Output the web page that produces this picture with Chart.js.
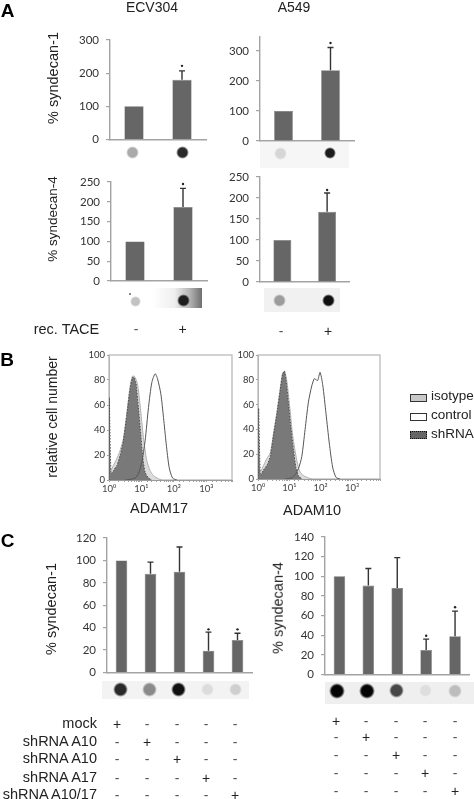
<!DOCTYPE html>
<html>
<head>
<meta charset="utf-8">
<title>Syndecan shedding</title>
<script src="https://cdn.jsdelivr.net/npm/chart.js@4/dist/chart.umd.min.js"></script>
<style>
  html, body { margin: 0; padding: 0; background: #fff; }
  #fig { position: relative; width: 474px; height: 799px; overflow: hidden; filter: blur(0.35px); }
  #fig canvas { position: absolute; }
  .t { position: absolute; white-space: nowrap; font-family: "Liberation Sans", sans-serif; color: #222; line-height: 1; transform: translate(-50%, -50%); }
  .b { position: absolute; }
</style>
</head>
<body>
<div id="fig"></div>
<script>
// panel A
const taceLabels = ['-', '+']
const ecvSyn1 = [100, 180]
const ecvSyn1Err = [null, 207]
const ecvSyn1Star = [null, 222]
const a549Syn1 = [100, 236]
const a549Syn1Err = [null, 312]
const a549Syn1Star = [null, 327]
const ecvSyn4 = [100, 187]
const ecvSyn4Err = [null, 234]
const ecvSyn4Star = [null, 245]
const a549Syn4 = [100, 167]
const a549Syn4Err = [null, 212]
const a549Syn4Star = [null, 219]

// panel B, histogram outlines (fluorescence, % of max)
const decadeLabels = ['10⁰', '10¹', '10²', '10³']
const a17ShX = [1, 1.02, 1.15, 1.36, 1.73, 2.19, 2.77, 3.52, 4.46, 5.27, 5.93, 6.84, 8.07, 9.53, 11, 13, 16.5, 20.9]
const a17ShY = [0, 66, 5, 7.5, 11.5, 19.5, 31.5, 51.6, 73, 82, 82, 77, 58, 37, 18, 6, 1.6, 0]
const a17IsoX = [1.15, 1.36, 1.73, 2.19, 2.77, 3.52, 4.46, 5.27, 6.08, 7.52, 9.09, 11.5, 14.6, 18.5, 23.5, 33.6, 42.6]
const a17IsoY = [7.5, 11.5, 17, 23.5, 33, 53, 75, 83, 83, 77, 60, 34, 15.5, 7.5, 3.5, 1, 0]
const a17CtlX = [3.1, 4.46, 6.4, 8.07, 10.2, 13, 16.5, 20.9, 26.5, 31.3, 39.6, 47.9, 58, 71.7, 91, 124]
const a17CtlY = [0, 0.5, 1.6, 5, 14, 31.5, 58, 78, 85, 81, 69, 50, 29, 10, 1.6, 0]
const a10ShX = [1, 1.05, 1.19, 1.51, 1.93, 2.46, 3.14, 4.01, 5.12, 6.07, 7.02, 7.93, 9.4, 11.2, 13.6, 16.1, 19.5, 24.9]
const a10ShY = [0, 57, 3, 7.5, 11, 18, 36, 52.6, 72, 84.5, 87, 79, 61, 41.5, 23.5, 9.7, 2.8, 0]
const a10IsoX = [1.19, 1.51, 1.93, 2.46, 3.14, 4.01, 5.12, 6.07, 7.02, 8.33, 10.1, 12.9, 17.3, 22.1, 31.8, 51.8]
const a10IsoY = [5.5, 11, 16.6, 21, 37, 54, 73, 85, 87, 79, 60, 34.6, 15, 5.5, 2, 0]
const a10CtlX = [7.37, 12, 15.3, 19.5, 24.9, 31.8, 40.6, 51.8, 62.9, 71.1, 80.4, 95.2, 116, 148, 188, 240, 307, 411]
const a10CtlY = [0, 1, 3.6, 8.3, 18, 40, 62, 75, 81, 80, 79.5, 86, 76, 52.6, 29, 9.7, 1.4, 0]

// panel C
const shLabels = ['mock', 'shRNA A10', 'shRNA A10', 'shRNA A17', 'shRNA A10/17']
const shMarks = ['+----', '-+---', '--+--', '---+-', '----+']
const cSyn1 = [100, 88, 90, 19.5, 29]
const cSyn1Err = [null, 98.5, 112, 36, 35]
const cSyn1Star = [null, null, null, 38.5, 38.5]
const cSyn4 = [100, 90.5, 88, 25, 39]
const cSyn4Err = [null, 108, 119, 36, 64.5]
const cSyn4Star = [null, null, null, 39.5, 68.5]

const fig = document.getElementById('fig')
const BAR = '#666666'
const AXIS = '#a3a3a3'
const TICKFONT = { family: 'Lato', size: 11.5 }

const errorBars = {
  id: 'errorBars',
  afterDatasetsDraw(chart) {
    const ds = chart.data.datasets[0]
    if (!ds.errorTop) return
    const ctx = chart.ctx
    const meta = chart.getDatasetMeta(0)
    ctx.save()
    ctx.strokeStyle = '#333'
    ctx.lineWidth = 1.4
    ds.errorTop.forEach((top, i) => {
      if (top == null) return
      const x = meta.data[i].x
      const y0 = chart.scales.y.getPixelForValue(ds.data[i])
      const y1 = chart.scales.y.getPixelForValue(top)
      ctx.beginPath()
      ctx.moveTo(x, y0)
      ctx.lineTo(x, y1)
      ctx.moveTo(x - 3, y1)
      ctx.lineTo(x + 3, y1)
      ctx.stroke()
    })
    ctx.restore()
  }
}

const plotBox = {
  id: 'plotBox',
  beforeDatasetsDraw(chart) {
    const a = chart.chartArea
    chart.ctx.save()
    chart.ctx.strokeStyle = '#b5b5b5'
    chart.ctx.lineWidth = 1.2
    chart.ctx.strokeRect(a.left, a.top, a.right - a.left, a.bottom - a.top)
    chart.ctx.restore()
  }
}

// canvas sizes have to be whole pixels, so the spare fraction goes to the right/bottom padding
function makeCanvas(p, m) {
  const c = document.createElement('canvas')
  c.width = Math.ceil(p.w + m.l + m.r)
  c.height = Math.ceil(p.h + m.t + m.b)
  c.style.left = (p.x - m.l) + 'px'
  c.style.top = (p.y - m.t) + 'px'
  m.padR = c.width - m.l - p.w
  m.padB = c.height - m.t - p.h
  fig.appendChild(c)
  return c
}

function barPanel(p, cats, values, errs, stars, yMax, yStep) {
  const m = { l: 45, t: 18, r: 6, b: 18 }
  const canvas = makeCanvas(p, m)
  new Chart(canvas, {
    type: 'bar',
    plugins: [errorBars],
    data: {
      labels: cats,
      datasets: [
        { data: values, errorTop: errs, backgroundColor: BAR, borderColor: '#757575', borderWidth: 0.6, categoryPercentage: 1, barPercentage: 0.4, order: 2 },
        { type: 'line', data: stars, showLine: false, pointRadius: 1.2, pointBackgroundColor: '#222', pointBorderWidth: 0, order: 1 }
      ]
    },
    options: {
      responsive: false,
      animation: false,
      layout: { padding: { left: 0, top: m.t, right: m.padR, bottom: m.padB } },
      plugins: { legend: { display: false }, tooltip: { enabled: false } },
      scales: {
        x: {
          ticks: { display: false },
          grid: { display: false },
          border: { color: AXIS, width: 1.4 },
          afterFit: s => { s.height = 0 }
        },
        y: {
          min: 0,
          max: yMax,
          ticks: { stepSize: yStep, includeBounds: false, font: TICKFONT, color: '#333', padding: 7 },
          grid: { drawOnChartArea: false, color: AXIS, tickLength: 4, lineWidth: 1.2 },
          border: { color: AXIS, width: 1.4 },
          afterFit: s => { s.width = m.l }
        }
      }
    }
  })
}

function toPoints(xs, ys) {
  return xs.map((x, i) => ({ x: x, y: ys[i] }))
}

function histPanel(p, xMax, sh, iso, ctl) {
  const m = { l: 30, t: 16, r: 6, b: 20 }
  const canvas = makeCanvas(p, m)
  new Chart(canvas, {
    type: 'scatter',
    plugins: [plotBox],
    data: {
      datasets: [
        { data: ctl, showLine: true, tension: 0.25, fill: false, borderColor: '#555', borderWidth: 1, pointRadius: 0, order: 1 },
        { data: sh, showLine: true, tension: 0.15, fill: 'origin', backgroundColor: 'rgba(112,112,112,0.92)', borderColor: '#444', borderWidth: 0.9, borderDash: [1.5, 1.5], pointRadius: 0, order: 2 },
        { data: iso, showLine: true, tension: 0.25, fill: 'origin', backgroundColor: '#dcdcdc', borderColor: '#b0b0b0', borderWidth: 1, pointRadius: 0, order: 3 }
      ]
    },
    options: {
      responsive: false,
      animation: false,
      layout: { padding: { left: 0, top: m.t, right: m.padR, bottom: 0 } },
      plugins: { legend: { display: false }, tooltip: { enabled: false } },
      scales: {
        x: {
          type: 'logarithmic',
          min: 1,
          max: xMax,
          ticks: {
            autoSkip: false,
            maxRotation: 0,
            font: { family: 'Lato', size: 9.5 },
            color: '#444',
            padding: 1,
            callback: v => {
              const e = Math.log10(v)
              return Number.isInteger(e) ? decadeLabels[e] : ''
            }
          },
          grid: { drawOnChartArea: false, color: '#777', tickLength: 2, lineWidth: 0.7 },
          border: { color: '#777', width: 1 },
          afterFit: s => { s.height = m.padB }
        },
        y: {
          min: 0,
          max: 100,
          ticks: { stepSize: 20, font: { family: 'Lato', size: 9.5 }, color: '#333', padding: 2 },
          grid: { drawOnChartArea: false, color: '#777', tickLength: 2, lineWidth: 0.7 },
          border: { color: '#b5b5b5', width: 1 },
          afterFit: s => { s.width = m.l }
        }
      }
    }
  })
}

function label(text, x, y, size, opt) {
  const d = document.createElement('div')
  d.className = 't'
  d.textContent = text
  d.style.left = x + 'px'
  d.style.top = y + 'px'
  d.style.fontSize = size + 'px'
  if (opt && opt.rot) d.style.transform = 'translate(-50%, -50%) rotate(-90deg)'
  if (opt && opt.bold) { d.style.fontWeight = 'bold'; d.style.color = '#000' }
  if (opt && opt.right) d.style.transform = 'translate(-100%, -50%)'
  if (opt && opt.left) d.style.transform = 'translate(0, -50%)'
  if (opt && opt.color) d.style.color = opt.color
  fig.appendChild(d)
}

function box(x, y, w, h, css) {
  const d = document.createElement('div')
  d.className = 'b'
  d.style.left = x + 'px'
  d.style.top = y + 'px'
  d.style.width = w + 'px'
  d.style.height = h + 'px'
  d.style.cssText += css
  fig.appendChild(d)
}

function blot(x, y, r, shade) {
  box(x - r, y - r, 2 * r, 2 * r, `border-radius:50%;background:radial-gradient(circle closest-side, ${shade} 0%, ${shade} 68%, transparent 100%);`)
}

function mark(ch, x, y) {
  label(ch, x, y, 14, { color: ch === '+' ? '#222' : '#555' })
}

// bars
barPanel({ x: 110, y: 39.5, w: 96, h: 99.5 }, taceLabels, ecvSyn1, ecvSyn1Err, ecvSyn1Star, 300, 100)
barPanel({ x: 260, y: 36.5, w: 94, h: 104 }, taceLabels, a549Syn1, a549Syn1Err, a549Syn1Star, 347, 100)
barPanel({ x: 111, y: 182, w: 96, h: 99 }, taceLabels, ecvSyn4, ecvSyn4Err, ecvSyn4Star, 250, 50)
barPanel({ x: 260, y: 176.5, w: 89.5, h: 105 }, taceLabels, a549Syn4, a549Syn4Err, a549Syn4Star, 250, 50)
barPanel({ x: 107, y: 537.5, w: 145, h: 134.5 }, shLabels, cSyn1, cSyn1Err, cSyn1Star, 120, 20)
barPanel({ x: 325, y: 536.5, w: 144.5, h: 137.5 }, shLabels, cSyn4, cSyn4Err, cSyn4Star, 140, 20)

// flow histograms
histPanel({ x: 109, y: 354.5, w: 123, h: 125 }, 6200, toPoints(a17ShX, a17ShY), toPoints(a17IsoX, a17IsoY), toPoints(a17CtlX, a17CtlY))
histPanel({ x: 258, y: 354.5, w: 122, h: 124 }, 7800, toPoints(a10ShX, a10ShY), toPoints(a10IsoX, a10IsoY), toPoints(a10CtlX, a10CtlY))

// panel letters and titles
label('A', 7.5, 9.5, 19, { bold: true })
label('B', 7, 358.5, 19, { bold: true })
label('C', 7.5, 540, 19, { bold: true })
label('ECV304', 152, 6.5, 14)
label('A549', 294, 6.5, 14)

// axis titles
label('% syndecan-1', 53, 78, 14.5, { rot: true })
label('% syndecan-4', 53, 219, 13.5, { rot: true })
label('relative cell number', 52, 416.5, 14, { rot: true })
label('% syndecan-1', 51, 609, 14.5, { rot: true })
label('% syndecan-4', 278, 608, 14.5, { rot: true })
label('ADAM17', 159, 508, 14.5)
label('ADAM10', 312, 510, 14.5)

// blots panel A
blot(132.5, 152.5, 6.5, '#aaa')
blot(182.5, 152, 6.5, '#2a2a2a')
box(260, 141.5, 89, 26, 'background:#f6f6f6;')
blot(280, 153.5, 6.5, '#d6d6d6')
blot(330, 153, 6, '#1c1c1c')
blot(135, 301, 5.5, '#c2c2c2')
blot(130, 294, 1.2, '#555')
box(151.5, 288, 50, 20, 'background:linear-gradient(90deg,#fff 0%,#efefef 45%,#b5b5b5 75%,#6f6f6f 100%);')
blot(183.5, 300.5, 6.5, '#1e1e1e')
box(264, 288, 76, 24, 'background:#f1f1f1;')
blot(279, 300, 6.5, '#9c9c9c')
blot(328, 300, 6.5, '#111')

// rec. TACE row
label('rec. TACE', 66.5, 329, 14.5)
mark(taceLabels[0], 136, 329)
mark(taceLabels[1], 182.5, 329)
mark(taceLabels[0], 281, 331)
mark(taceLabels[1], 328, 331)

// legend
box(410, 394, 15, 5.5, 'background:#c9c9c9;border:1px solid #333;')
box(410, 413, 15, 5.5, 'background:#fff;border:1px solid #333;')
box(410, 431, 15, 5.5, 'background:#666;border:1px dotted #111;')
label('isotype', 431, 396, 13.5, { left: true })
label('control', 431, 415, 13.5, { left: true })
label('shRNA', 431, 434, 13.5, { left: true })

// blots panel C
box(102, 681, 147, 18, 'background:#f3f3f3;')
const c1Dots = [[120, 7.5, '#2a2a2a'], [149, 7.5, '#8a8a8a'], [178, 7.5, '#111'], [207, 6.5, '#dcdcdc'], [235, 6.5, '#cfcfcf']]
c1Dots.forEach(d => blot(d[0], 689.5, d[1], d[2]))
box(324.5, 682, 149, 22, 'background:#efefef;')
const c2Dots = [[337, 8, '#050505'], [367, 8, '#050505'], [396, 7.5, '#474747'], [425, 6.5, '#dedede'], [454.5, 7, '#bdbdbd']]
c2Dots.forEach(d => blot(d[0], 690.5, d[1], d[2]))

// treatment table
const c1Rows = [723, 741, 758, 777, 794]
const c2Rows = [721, 737, 755, 773, 791]
const c1Cols = [117, 147, 177, 206, 235]
const c2Cols = [336, 366, 396, 425, 455]
shLabels.forEach((name, r) => {
  label(name, 97, c1Rows[r], 14.5, { right: true })
  shMarks[r].split('').forEach((ch, i) => {
    mark(ch, c1Cols[i], c1Rows[r] + 1)
    mark(ch, c2Cols[i], c2Rows[r])
  })
})
</script>
</body>
</html>
